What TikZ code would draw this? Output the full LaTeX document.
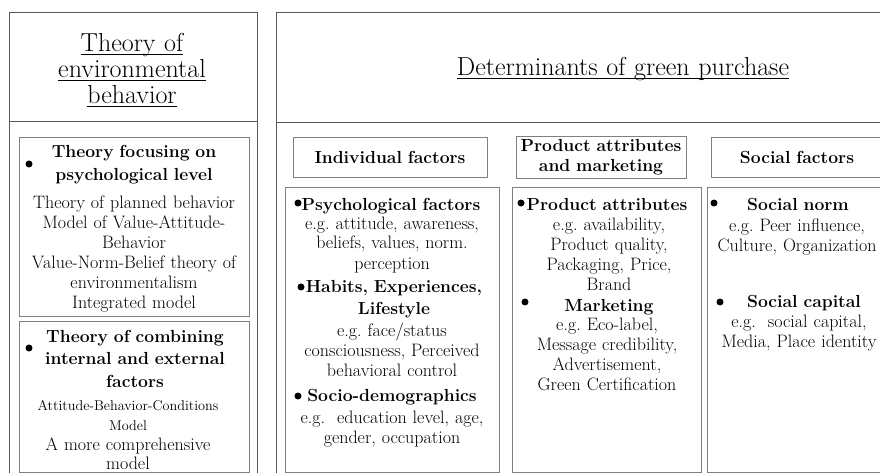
\documentclass[tikz,border=0pt]{standalone}
\usepackage{tikz}
\newcommand{\uln}[1]{\leavevmode\setbox0\hbox{#1}\rlap{\rule[-3pt]{\wd0}{1pt}}\box0}

\begin{document}
\frenchspacing
\begin{tikzpicture}[x=1pt,y=-1pt,
    panel/.style={draw=black!65,line width=1pt},
    frame/.style={draw=black!50,line width=1pt},
    ttl/.style={font=\fontsize{26}{26}\selectfont,text width=400pt,align=center,inner sep=0pt,anchor=base},
    head/.style={font=\bfseries\fontsize{17.5}{22.5}\selectfont,text width=220pt,align=center,inner sep=0pt,anchor=base},
    body/.style={font=\fontsize{18}{20}\selectfont,text width=220pt,align=center,inner sep=0pt,anchor=base},
    small/.style={font=\fontsize{14.2}{20}\selectfont,text width=220pt,align=center,inner sep=0pt,anchor=base},
    dot/.style={circle,fill=black,minimum size=7pt,inner sep=0pt}]
  \useasboundingbox (0,0) rectangle (880,473);
  \clip (0,0) rectangle (880,473);

  % left panel
  \draw[panel] (9,13) rectangle (257,495);
  \draw[panel] (9,122) -- (257,122);
  \node[ttl] (envtitle) at (132,52) {\uln{Theory of}\\\uln{environmental}\\\uln{behavior}};

  \draw[frame] (19,138) rectangle (249,316);
  \node[dot] (d1) at (29,164) {};
  \node[head] (psyhead) at (134,158) {Theory focusing on\\psychological level};
  \node[body] (psylist) at (134,208) {Theory of planned behavior\\Model of Value-Attitude-\\Behavior\\Value-Norm-Belief theory of\\environmentalism\\Integrated model};

  \draw[frame] (19,321) rectangle (249,472);
  \node[dot] (d2) at (29,348) {};
  \node[head] (combhead) at (135,342) {Theory of combining\\internal and external\\factors};
  \node[small] (abcmodel) at (128,410) {Attitude-Behavior-Conditions\\Model};
  \node[body,font=\fontsize{18}{19}\selectfont] (compmodel) at (128,450) {A more comprehensive\\model};

  % right panel
  \draw[panel] (276,13) rectangle (900,495);
  \draw[panel] (276,123) -- (900,123);
  \node[ttl] (gptitle) at (623,76) {\uln{Determinants of green purchase}};

  % column headers
  \draw[frame] (293,138) rectangle (487,178);
  \draw[frame] (516,137) rectangle (686,179);
  \draw[frame] (711,138) rectangle (900,178);
  \node[head] (indiv) at (390,164) {Individual factors};
  \node[head,font=\bfseries\fontsize{17.5}{20}\selectfont] (prodmkt) at (601,152) {Product attributes\\and marketing};
  \node[head] (social) at (797,164) {Social factors};

  % individual factors
  \draw[frame] (285,188) rectangle (499,472);
  \node[dot] (d3) at (298,203) {};
  \node[head] (psyfac) at (391,210) {Psychological factors};
  \node[body] (psyeg) at (392,229) {e.g. attitude, awareness,\\beliefs, values, norm.\\perception};
  \node[dot] (d4) at (301,287) {};
  \node[head,font=\bfseries\fontsize{17.5}{22}\selectfont] (habits) at (394,292) {Habits, Experiences,\\Lifestyle};
  \node[body] (habeg) at (392,336) {e.g. face/status\\consciousness, Perceived\\behavioral control};
  \node[dot] (d5) at (298,396) {};
  \node[head] (socdem) at (392,401) {Socio-demographics};
  \node[body] (socdemeg) at (392,423) {e.g.\ \ education level, age,\\gender, occupation};

  % product attributes and marketing
  \draw[frame] (512,188) rectangle (701,472);
  \node[dot] (d6) at (521,203) {};
  \node[head] (prodattr) at (607,211) {Product attributes};
  \node[body] (prodeg) at (609,230) {e.g. availability,\\Product quality,\\Packaging, Price,\\Brand};
  \node[dot] (d7) at (525,302) {};
  \node[head] (mkt) at (609,311) {Marketing};
  \node[body] (mkteg) at (607,330) {e.g. Eco-label,\\Message credibility,\\Advertisement,\\Green Certification};

  % social factors
  \draw[frame] (707,188) rectangle (900,472);
  \node[dot] (d8) at (714,203) {};
  \node[head] (socnorm) at (798,211) {Social norm};
  \node[body] (normeg) at (797,231) {e.g. Peer influence,\\Culture, Organization};
  \node[dot] (d9) at (720,302) {};
  \node[head] (soccap) at (804,307) {Social capital};
  \node[body] (capeg) at (799,327) {e.g.\ \ social capital,\\Media, Place identity};
\end{tikzpicture}
\end{document}
